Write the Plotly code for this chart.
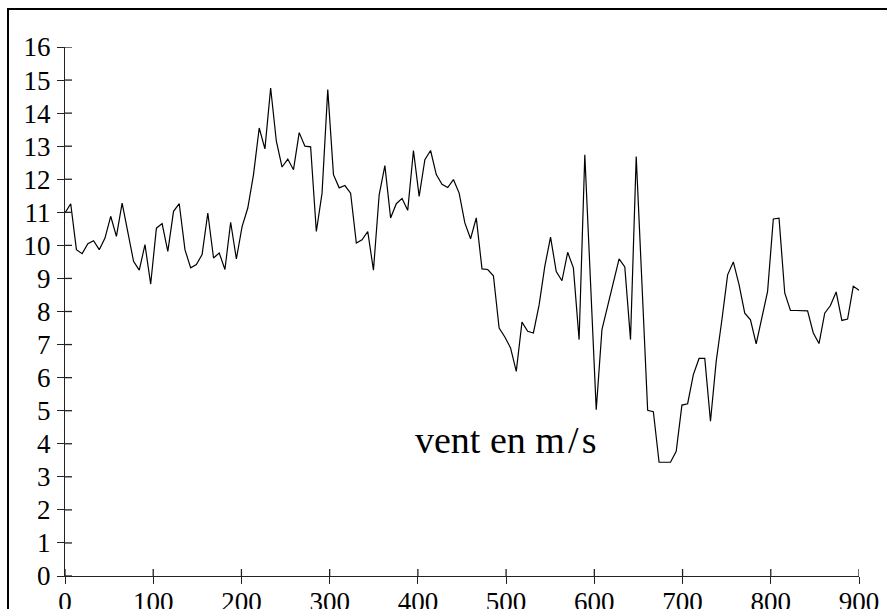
import plotly.graph_objects as go

# Wind speed record (m/s), sampled at a regular interval over 0..900
wind_speed = [
    10.98, 11.26, 9.87, 9.75, 10.05, 10.14, 9.87, 10.22, 10.88, 10.27,
    11.28, 10.42, 9.52, 9.25, 10.02, 8.83, 10.52, 10.66, 9.82, 11.03,
    11.26, 9.87, 9.32, 9.42, 9.72, 10.98, 9.62, 9.77, 9.27, 10.70,
    9.59, 10.57, 11.13, 12.14, 13.55, 12.92, 14.76, 13.15, 12.37, 12.61,
    12.29, 13.41, 13.00, 12.98, 10.42, 11.58, 14.71, 12.14, 11.74, 11.81,
    11.58, 10.07, 10.17, 10.42, 9.25, 11.53, 12.41, 10.83, 11.26, 11.42,
    11.06, 12.87, 11.48, 12.59, 12.87, 12.14, 11.85, 11.75, 11.99, 11.58,
    10.68, 10.20, 10.83, 9.29, 9.27, 9.08, 7.50, 7.23, 6.90, 6.19,
    7.68, 7.40, 7.35, 8.20, 9.37, 10.25, 9.21, 8.93, 9.79, 9.32,
    7.15, 12.74, 8.90, 5.03, 7.45, 8.15, 8.81, 9.59, 9.35, 7.15,
    12.69, 8.90, 5.01, 4.97, 3.44, 3.44, 3.44, 3.77, 5.17, 5.21,
    6.09, 6.58, 6.58, 4.68, 6.49, 7.75, 9.11, 9.50, 8.81, 7.95,
    7.75, 7.02, 7.80, 8.61, 10.80, 10.82, 8.56, 8.03, 8.03, 8.03,
    8.02, 7.35, 7.03, 7.95, 8.18, 8.59, 7.73, 7.77, 8.76, 8.64,
]
x_end = 900
sample_pos = [i * x_end / (len(wind_speed) - 1) for i in range(len(wind_speed))]

x_ticks = [0, 100, 200, 300, 400, 500, 600, 700, 800, 900]
y_ticks = list(range(0, 17))
label_text = "vent en m\u200a/\u200as"

FONT = "Liberation Serif"
AXIS_COLOR = "#222222"
PLOT_W, PLOT_H = 794, 529
TICK_HALF = 7

fig = go.Figure(
    go.Scatter(
        x=sample_pos,
        y=wind_speed,
        mode="lines",
        line=dict(color="black", width=1.2),
        hoverinfo="skip",
        showlegend=False,
    )
)

fig.add_annotation(
    x=500, y=4.1, xref="x", yref="y",
    text=label_text, showarrow=False,
    font=dict(family=FONT, size=38, color="black"),
    xanchor="center", yanchor="middle",
)

# inner half of each cross-shaped tick mark (outer half comes from the axes)
shapes = []
for v in y_ticks:
    shapes.append(dict(type="line", xref="paper", yref="y",
                       x0=0, x1=TICK_HALF / PLOT_W, y0=v, y1=v,
                       line=dict(color=AXIS_COLOR, width=1.3)))
for v in x_ticks:
    shapes.append(dict(type="line", xref="x", yref="paper",
                       x0=v, x1=v, y0=0, y1=TICK_HALF / PLOT_H,
                       line=dict(color=AXIS_COLOR, width=1.3)))
# frame along the top and left of the page
shapes.append(dict(type="rect", xref="paper", yref="paper",
                   x0=-57 / PLOT_W, x1=2.0, y0=-0.5, y1=(576.3 - 9.3) / PLOT_H,
                   line=dict(color="black", width=2), fillcolor="rgba(0,0,0,0)"))

fig.update_layout(
    width=887, height=609,
    margin=dict(l=65, r=28, t=47, b=33, autoexpand=False),
    paper_bgcolor="white", plot_bgcolor="white",
    font=dict(family=FONT, size=27, color="black"),
    shapes=shapes,
    xaxis=dict(
        range=[0, 900], tickvals=x_ticks, ticktext=[str(t) for t in x_ticks],
        showgrid=False, zeroline=False, automargin=False,
        showline=True, linecolor=AXIS_COLOR, linewidth=1.3,
        ticks="outside", ticklen=TICK_HALF, tickwidth=1.3, tickcolor=AXIS_COLOR,
        tickfont=dict(family=FONT, size=27, color="black"),
        ticklabelstandoff=-6,
    ),
    yaxis=dict(
        range=[0, 16], tickvals=y_ticks, ticktext=[str(t) for t in y_ticks],
        showgrid=False, zeroline=False, automargin=False,
        showline=True, linecolor=AXIS_COLOR, linewidth=1.3,
        ticks="outside", ticklen=TICK_HALF, tickwidth=1.3, tickcolor=AXIS_COLOR,
        tickfont=dict(family=FONT, size=27, color="black"),
        ticklabelstandoff=1,
    ),
)

fig.write_html("out.html")
